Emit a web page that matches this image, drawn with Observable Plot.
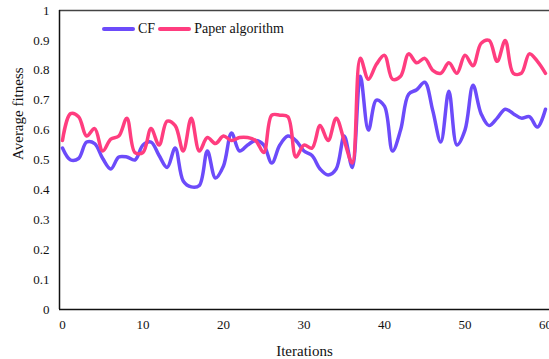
<!DOCTYPE html>
<html>
<head>
<meta charset="utf-8">
<script src="https://cdn.jsdelivr.net/npm/d3@7"></script>
<script src="https://cdn.jsdelivr.net/npm/@observablehq/plot@0.6"></script>
<style>
  html, body { margin: 0; padding: 0; background: #fff; }
  #wrap { position: relative; width: 549px; height: 359px; font-family: "Liberation Serif", "Times New Roman", serif; }
  #chart svg text { font-family: "Liberation Serif", "Times New Roman", serif; }
  #legend { position: absolute; left: 102px; top: 21px; display: flex; align-items: center; font-size: 14px; color: #111; }
  .sw { display: inline-block; width: 33px; height: 4px; border-radius: 2px; margin-right: 3px; }
  .item { display: flex; align-items: center; margin-right: 3px; }
</style>
</head>
<body>
<div id="wrap">
  <div id="chart"></div>
  <div id="legend"></div>
</div>
<script>
const iterations = d3.range(0, 61);
const cf = [0.54,0.50,0.505,0.56,0.555,0.505,0.47,0.51,0.51,0.50,
            0.55,0.56,0.515,0.475,0.54,0.43,0.41,0.415,0.53,0.44,
            0.48,0.59,0.53,0.55,0.565,0.55,0.49,0.55,0.58,0.565,
            0.53,0.515,0.47,0.45,0.47,0.58,0.475,0.78,0.60,0.70,
            0.68,0.53,0.60,0.72,0.735,0.76,0.665,0.56,0.73,0.55,
            0.60,0.75,0.655,0.615,0.64,0.67,0.655,0.64,0.645,0.61,0.67];
const paper = [0.565,0.655,0.645,0.58,0.605,0.53,0.57,0.58,0.64,0.525,
               0.525,0.605,0.55,0.63,0.615,0.53,0.64,0.53,0.575,0.555,
               0.58,0.565,0.575,0.575,0.565,0.525,0.65,0.65,0.645,0.51,
               0.55,0.54,0.615,0.565,0.64,0.565,0.49,0.84,0.77,0.82,
               0.85,0.77,0.78,0.855,0.825,0.84,0.80,0.79,0.825,0.79,
               0.85,0.815,0.89,0.90,0.83,0.90,0.79,0.79,0.855,0.83,0.79];
const seriesNames = ["CF", "Paper algorithm"];
const seriesColors = ["#6c4bfa", "#ff3d7f"];
const yTicks = [0,0.1,0.2,0.3,0.4,0.5,0.6,0.7,0.8,0.9,1];
const xTicks = [0,10,20,30,40,50,60];
const xDomain = [-0.37, 60.5];

const rows = [];
iterations.forEach((it, i) => {
  rows.push({it, v: cf[i], s: seriesNames[0]});
  rows.push({it, v: paper[i], s: seriesNames[1]});
});

const chart = Plot.plot({
  width: 549,
  height: 359,
  marginLeft: 59,
  marginRight: 0,
  marginTop: 10,
  marginBottom: 50,
  style: { fontFamily: "'Liberation Serif', 'Times New Roman', serif", fontSize: "13px", color: "#111", background: "#fff" },
  x: { domain: xDomain, ticks: xTicks, tickSize: 0, tickPadding: 10, label: null, tickFormat: d => String(d) },
  y: { domain: [0, 1], ticks: yTicks, tickSize: 0, tickPadding: 10, label: null, tickFormat: d => String(d) },
  color: { domain: seriesNames, range: seriesColors },
  marks: [
    Plot.axisX({ ticks: xTicks, tickSize: 0, tickPadding: 10, fontSize: 13, tickFormat: d => String(d) }),
    Plot.axisY({ ticks: yTicks, tickSize: 0, tickPadding: 10, fontSize: 13, tickFormat: d => String(d) }),
    Plot.ruleY([1], { stroke: "#444", strokeWidth: 1.5 }),
    Plot.ruleY([0], { stroke: "#111", strokeWidth: 1.5 }),
    Plot.ruleX([xDomain[0]], { stroke: "#111", strokeWidth: 1.5 }),
    Plot.line(rows, { x: "it", y: "v", z: "s", stroke: "s", strokeWidth: 3.5, curve: "catmull-rom" }),
    Plot.text(["Iterations"], { frameAnchor: "bottom", dy: 46, fontSize: 15, text: d => d, fill: "#111" }),
    Plot.text(["Average fitness"], { frameAnchor: "left", dx: -41, rotate: -90, fontSize: 15, text: d => d, fill: "#111" })
  ]
});
document.getElementById("chart").appendChild(chart);

const legend = document.getElementById("legend");
seriesNames.forEach((n, i) => {
  const item = document.createElement("span");
  item.className = "item";
  const sw = document.createElement("span");
  sw.className = "sw";
  sw.style.background = seriesColors[i];
  item.appendChild(sw);
  item.appendChild(document.createTextNode(n));
  legend.appendChild(item);
});
</script>
</body>
</html>
